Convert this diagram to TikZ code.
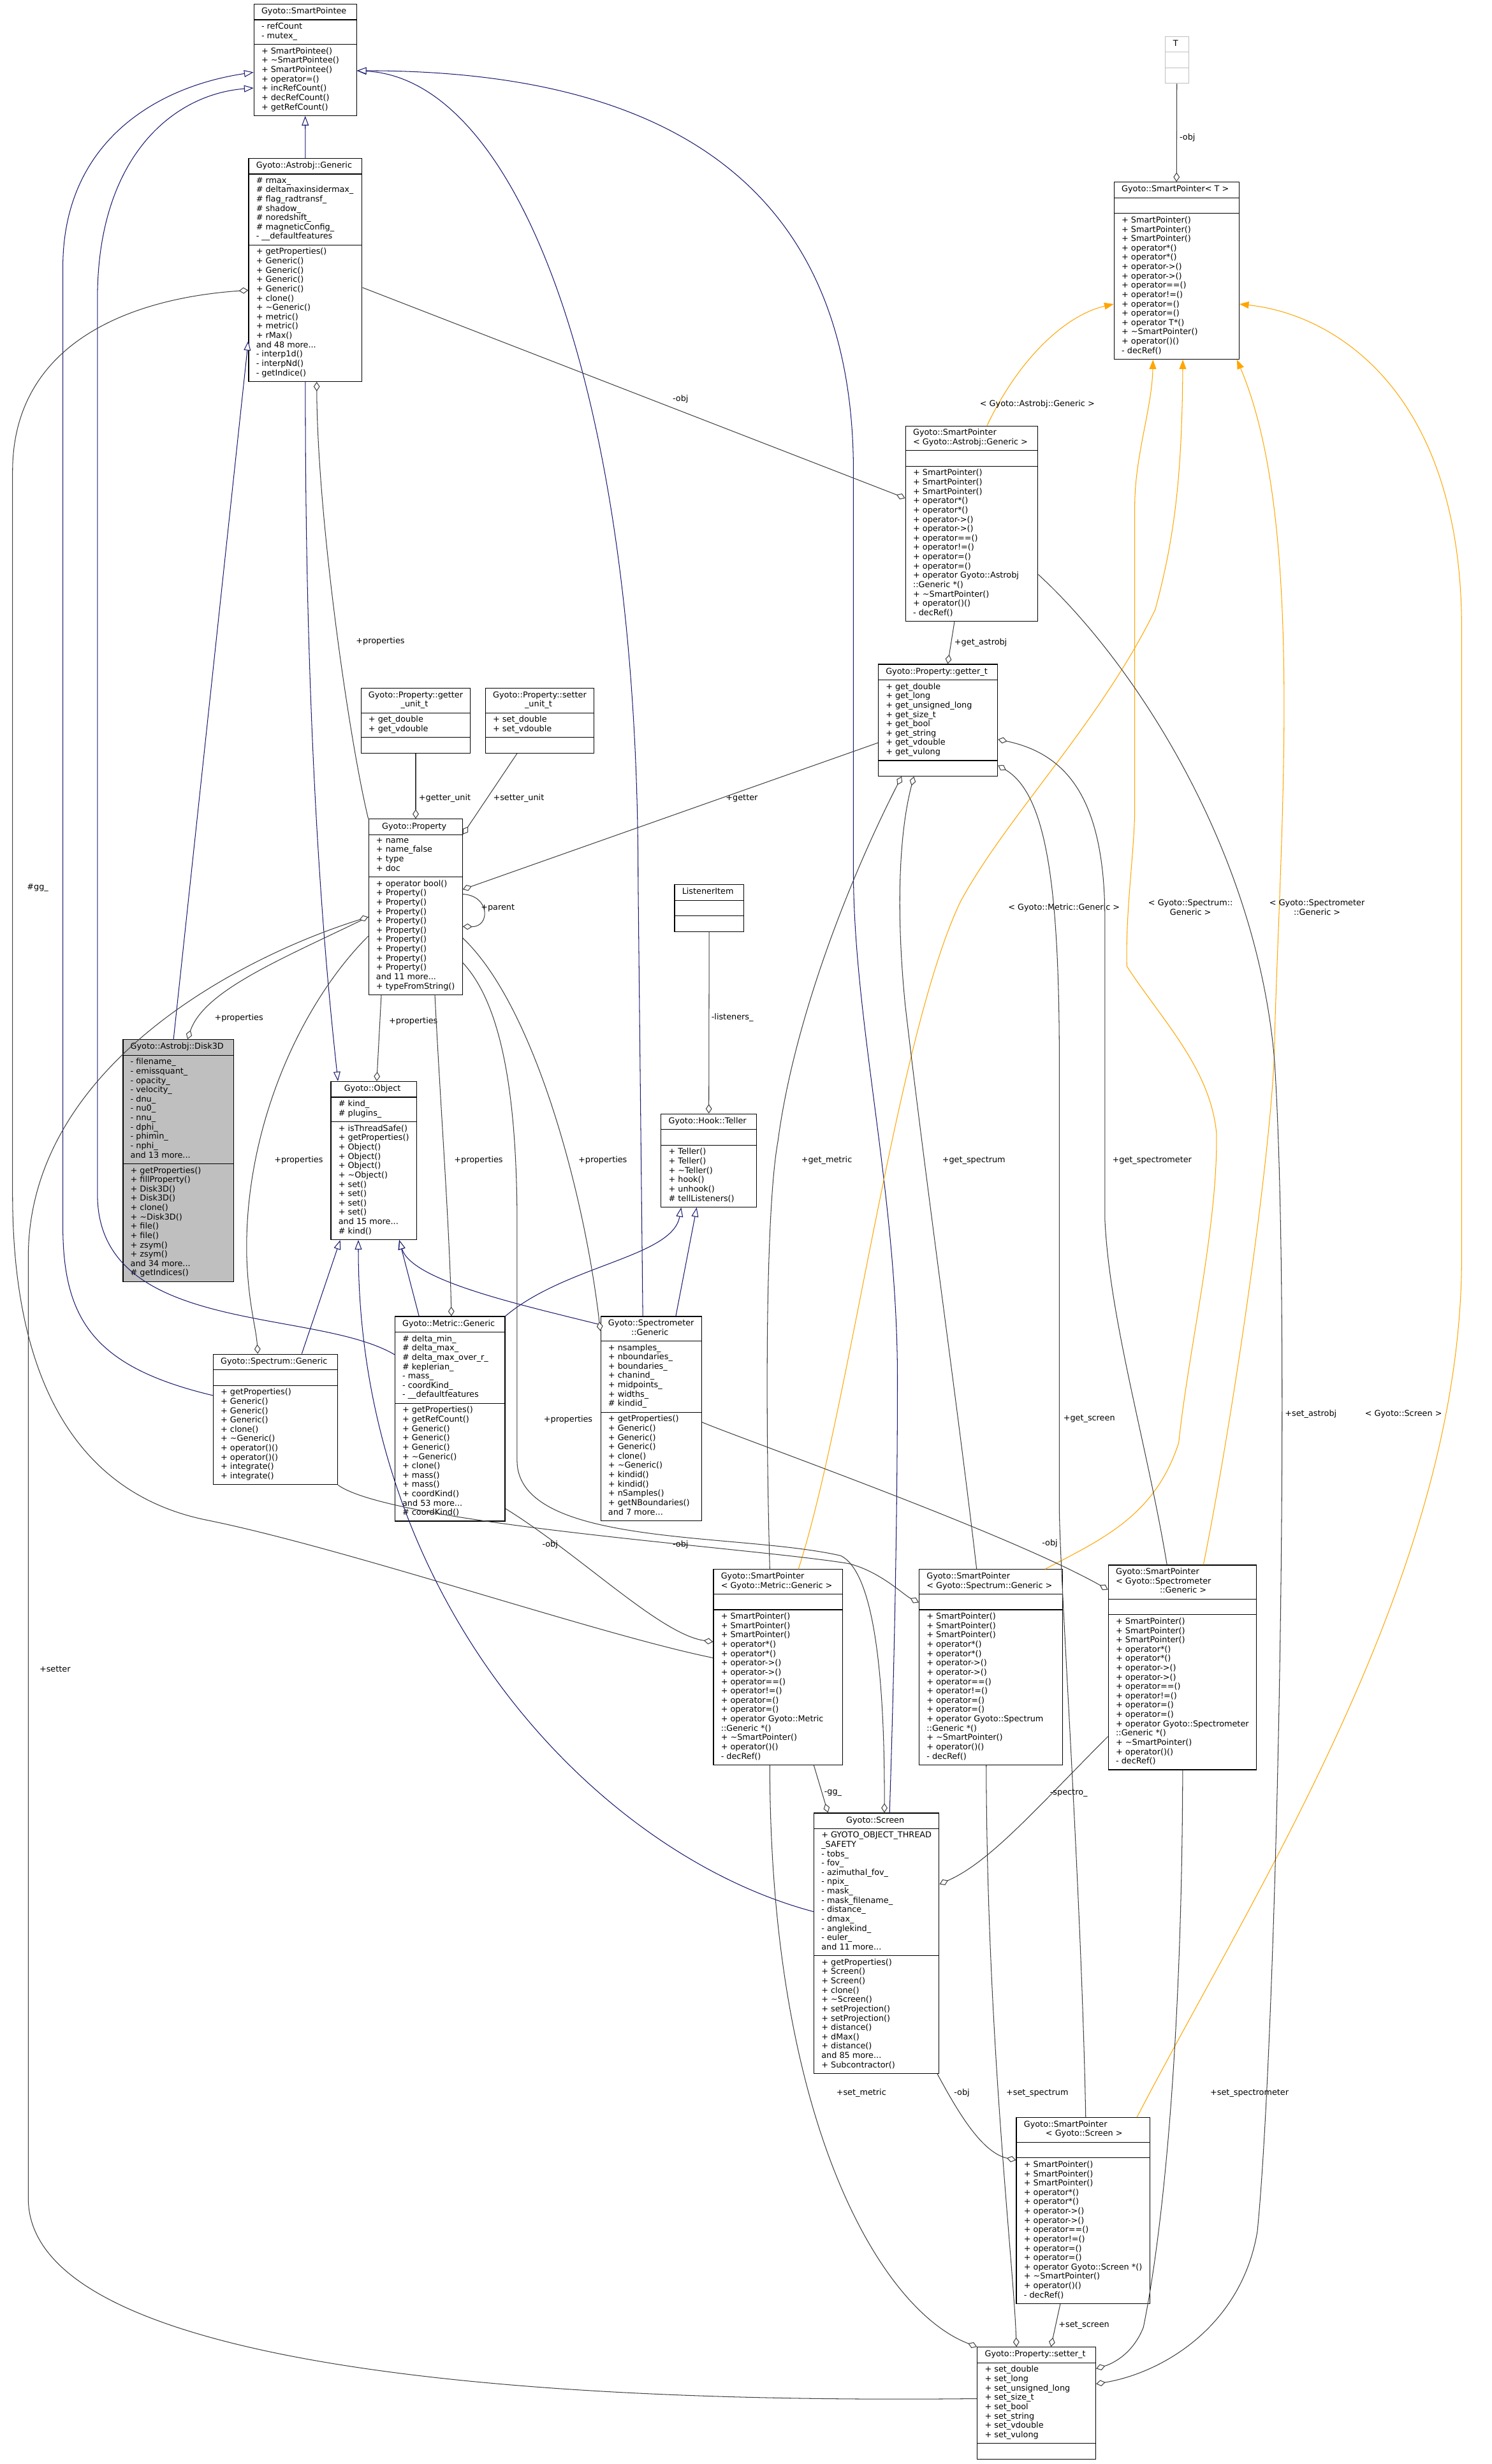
\documentclass[tikz,border=0pt]{standalone}
\usepackage{fontspec}
\setmainfont{DejaVu Sans}
\usetikzlibrary{shapes.multipart,arrows.meta}
\definecolor{inhblue}{HTML}{191970}
\definecolor{usegrey}{HTML}{404040}
\definecolor{tmplorange}{HTML}{FFA500}
\definecolor{boxgrey}{HTML}{BFBFBF}
\newcommand{\clsfont}{\fontsize{7.4}{8.44}\selectfont}
\tikzset{
  cls/.style={rectangle split, rectangle split parts=3, draw=black, line width=0.7pt,
    fill=white, anchor=north, font=\clsfont, align=left, inner xsep=6.8pt, inner ysep=2.5pt,
    rectangle split part align={center,left,left},
    execute at begin node=\strut, execute at end node=\strut},
  inh/.style={draw=inhblue, line width=0.6pt, -{Triangle[open,fill=white,length=0.3cm,width=0.22cm]}},
  memb/.style={draw=usegrey, line width=0.6pt, -{Diamond[open,fill=white,length=0.3cm,width=0.2cm]}},
  tmpl/.style={draw=tmplorange, line width=0.6pt, -{Triangle[length=0.3cm,width=0.22cm]}},
  lbl/.style={font=\clsfont, inner sep=0pt, align=center},
}
\begin{document}
\begin{tikzpicture}[x=0.05cm, y=-0.05cm]
  \useasboundingbox (0,0) rectangle (949,1568);
  % --- classes ---
  \node[cls] (spointee) at (194.2,2.4) {Gyoto::SmartPointee
    \nodepart{two}- refCount\\- mutex\_
    \nodepart{three}+ SmartPointee()\\+ \textasciitilde SmartPointee()\\+ SmartPointee()\\+ operator=()\\+ incRefCount()\\+ decRefCount()\\+ getRefCount()};
  \node[cls] (astrobj) at (194.3,100.6) {Gyoto::Astrobj::Generic
    \nodepart{two}\# rmax\_\\\# deltamaxinsidermax\_\\\# flag\_radtransf\_\\\# shadow\_\\\# noredshift\_\\\# magneticConfig\_\\- \_\_defaultfeatures
    \nodepart{three}+ getProperties()\\+ Generic()\\+ Generic()\\+ Generic()\\+ Generic()\\+ clone()\\+ \textasciitilde Generic()\\+ metric()\\+ metric()\\+ rMax()\\and 48 more...\\- interp1d()\\- interpNd()\\- getIndice()};
  \node[cls, draw=boxgrey, minimum width=0.75cm] (tcls) at (748.8,23) {T
    \nodepart{two}\strut
    \nodepart{three}\strut};
  \node[cls] (sptmpl) at (748.6,115.7) {Gyoto::SmartPointer< T >
    \nodepart{two}\strut
    \nodepart{three}+ SmartPointer()\\+ SmartPointer()\\+ SmartPointer()\\+ operator*()\\+ operator*()\\+ operator->()\\+ operator->()\\+ operator==()\\+ operator!=()\\+ operator=()\\+ operator=()\\+ operator T*()\\+ \textasciitilde SmartPointer()\\+ operator()()\\- decRef()};
  \node[cls, rectangle split part align={left,left,left}] (spastro) at (618.3,270.8) {Gyoto::SmartPointer\\< Gyoto::Astrobj::Generic >
    \nodepart{two}\strut
    \nodepart{three}+ SmartPointer()\\+ SmartPointer()\\+ SmartPointer()\\+ operator*()\\+ operator*()\\+ operator->()\\+ operator->()\\+ operator==()\\+ operator!=()\\+ operator=()\\+ operator=()\\+ operator Gyoto::Astrobj\\::Generic *()\\+ \textasciitilde SmartPointer()\\+ operator()()\\- decRef()};
  \node[cls] (getter) at (596.8,422.5) {Gyoto::Property::getter\_t
    \nodepart{two}+ get\_double\\+ get\_long\\+ get\_unsigned\_long\\+ get\_size\_t\\+ get\_bool\\+ get\_string\\+ get\_vdouble\\+ get\_vulong
    \nodepart{three}\strut};
  \node[cls] (gunit) at (264.5,437.8) {Gyoto::Property::getter\\\hfil\_unit\_t
    \nodepart{two}+ get\_double\\+ get\_vdouble
    \nodepart{three}\strut};
  \node[cls] (sunit) at (343.4,437.8) {Gyoto::Property::setter\\\hfil\_unit\_t
    \nodepart{two}+ set\_double\\+ set\_vdouble
    \nodepart{three}\strut};
  \node[cls] (prop) at (264.4,521) {Gyoto::Property
    \nodepart{two}+ name\\+ name\_false\\+ type\\+ doc
    \nodepart{three}+ operator bool()\\+ Property()\\+ Property()\\+ Property()\\+ Property()\\+ Property()\\+ Property()\\+ Property()\\+ Property()\\+ Property()\\and 11 more...\\+ typeFromString()};
  \node[cls] (listener) at (451.2,562.7) {ListenerItem
    \nodepart{two}\strut
    \nodepart{three}\strut};
  \node[cls, fill=boxgrey] (disk) at (113.5,661.3) {Gyoto::Astrobj::Disk3D
    \nodepart{two}- filename\_\\- emissquant\_\\- opacity\_\\- velocity\_\\- dnu\_\\- nu0\_\\- nnu\_\\- dphi\_\\- phimin\_\\- nphi\_\\and 13 more...
    \nodepart{three}+ getProperties()\\+ fillProperty()\\+ Disk3D()\\+ Disk3D()\\+ clone()\\+ \textasciitilde Disk3D()\\+ file()\\+ file()\\+ zsym()\\+ zsym()\\and 34 more...\\\# getIndices()};
  \node[cls] (object) at (237.8,688) {Gyoto::Object
    \nodepart{two}\# kind\_\\\# plugins\_
    \nodepart{three}+ isThreadSafe()\\+ getProperties()\\+ Object()\\+ Object()\\+ Object()\\+ \textasciitilde Object()\\+ set()\\+ set()\\+ set()\\+ set()\\and 15 more...\\\# kind()};
  \node[cls] (teller) at (451,708.6) {Gyoto::Hook::Teller
    \nodepart{two}\strut
    \nodepart{three}+ Teller()\\+ Teller()\\+ \textasciitilde Teller()\\+ hook()\\+ unhook()\\\# tellListeners()};
  \node[cls] (metric) at (286.3,837.5) {Gyoto::Metric::Generic
    \nodepart{two}\# delta\_min\_\\\# delta\_max\_\\\# delta\_max\_over\_r\_\\\# keplerian\_\\- mass\_\\- coordKind\_\\- \_\_defaultfeatures
    \nodepart{three}+ getProperties()\\+ getRefCount()\\+ Generic()\\+ Generic()\\+ Generic()\\+ \textasciitilde Generic()\\+ clone()\\+ mass()\\+ mass()\\+ coordKind()\\and 53 more...\\\# coordKind()};
  \node[cls] (spectrometer) at (414.3,837.5) {Gyoto::Spectrometer\\\hfil::Generic
    \nodepart{two}+ nsamples\_\\+ nboundaries\_\\+ boundaries\_\\+ chanind\_\\+ midpoints\_\\+ widths\_\\\# kindid\_
    \nodepart{three}+ getProperties()\\+ Generic()\\+ Generic()\\+ Generic()\\+ clone()\\+ \textasciitilde Generic()\\+ kindid()\\+ kindid()\\+ nSamples()\\+ getNBoundaries()\\and 7 more...};
  \node[cls] (spectrum) at (175.2,861.5) {Gyoto::Spectrum::Generic
    \nodepart{two}\strut
    \nodepart{three}+ getProperties()\\+ Generic()\\+ Generic()\\+ Generic()\\+ clone()\\+ \textasciitilde Generic()\\+ operator()()\\+ operator()()\\+ integrate()\\+ integrate()};
  \node[cls, rectangle split part align={left,left,left}] (spmetric) at (495,998.5) {Gyoto::SmartPointer\\< Gyoto::Metric::Generic >
    \nodepart{two}\strut
    \nodepart{three}+ SmartPointer()\\+ SmartPointer()\\+ SmartPointer()\\+ operator*()\\+ operator*()\\+ operator->()\\+ operator->()\\+ operator==()\\+ operator!=()\\+ operator=()\\+ operator=()\\+ operator Gyoto::Metric\\::Generic *()\\+ \textasciitilde SmartPointer()\\+ operator()()\\- decRef()};
  \node[cls, rectangle split part align={left,left,left}] (spspectrum) at (630.4,998.5) {Gyoto::SmartPointer\\< Gyoto::Spectrum::Generic >
    \nodepart{two}\strut
    \nodepart{three}+ SmartPointer()\\+ SmartPointer()\\+ SmartPointer()\\+ operator*()\\+ operator*()\\+ operator->()\\+ operator->()\\+ operator==()\\+ operator!=()\\+ operator=()\\+ operator=()\\+ operator Gyoto::Spectrum\\::Generic *()\\+ \textasciitilde SmartPointer()\\+ operator()()\\- decRef()};
  \node[cls, rectangle split part align={left,left,left}] (spspectro) at (752.3,995.7) {Gyoto::SmartPointer\\< Gyoto::Spectrometer\\\hspace*{39.8pt}::Generic >
    \nodepart{two}\strut
    \nodepart{three}+ SmartPointer()\\+ SmartPointer()\\+ SmartPointer()\\+ operator*()\\+ operator*()\\+ operator->()\\+ operator->()\\+ operator==()\\+ operator!=()\\+ operator=()\\+ operator=()\\+ operator Gyoto::Spectrometer\\::Generic *()\\+ \textasciitilde SmartPointer()\\+ operator()()\\- decRef()};
  \node[cls] (screen) at (557.7,1153.5) {Gyoto::Screen
    \nodepart{two}+ GYOTO\_OBJECT\_THREAD\\\_SAFETY\\- tobs\_\\- fov\_\\- azimuthal\_fov\_\\- npix\_\\- mask\_\\- mask\_filename\_\\- distance\_\\- dmax\_\\- anglekind\_\\- euler\_\\and 11 more...
    \nodepart{three}+ getProperties()\\+ Screen()\\+ Screen()\\+ clone()\\+ \textasciitilde Screen()\\+ setProjection()\\+ setProjection()\\+ distance()\\+ dMax()\\+ distance()\\and 85 more...\\+ Subcontractor()};
  \node[cls, rectangle split part align={left,left,left}] (spscreen) at (689.1,1347.3) {Gyoto::SmartPointer\\\hspace*{19.7pt}< Gyoto::Screen >
    \nodepart{two}\strut
    \nodepart{three}+ SmartPointer()\\+ SmartPointer()\\+ SmartPointer()\\+ operator*()\\+ operator*()\\+ operator->()\\+ operator->()\\+ operator==()\\+ operator!=()\\+ operator=()\\+ operator=()\\+ operator Gyoto::Screen *()\\+ \textasciitilde SmartPointer()\\+ operator()()\\- decRef()};
  \node[cls] (setter) at (659.5,1493.4) {Gyoto::Property::setter\_t
    \nodepart{two}+ set\_double\\+ set\_long\\+ set\_unsigned\_long\\+ set\_size\_t\\+ set\_bool\\+ set\_string\\+ set\_vdouble\\+ set\_vulong
    \nodepart{three}\strut};
  % --- inheritance ---
  \draw[inh] (astrobj.north) -- (spointee.south);
  \draw[inh] (metric.west |- 0,862) .. controls (200,832) and (62,850) .. (62,760) -- (62,190) .. controls (62,100) and (110,60) .. (spointee.west |- 0,56);
  \draw[inh] (spectrum.west |- 0,888) .. controls (60,870) and (40,840) .. (40,780) -- (40,170) .. controls (40,90) and (100,55) .. (spointee.west |- 0,46);
  \draw[inh] (409,0 |- spectrometer.north) -- (406,560) .. controls (406,250) and (330,50) .. (spointee.east |- 0,45);
  \draw[inh] (566,0 |- screen.north) .. controls (571,1000) and (571,900) .. (571,877) .. controls (571,760) and (543,650) .. (543,554) -- (543,300) .. controls (543,100) and (400,45) .. (spointee.east |- 0,45);
  \draw[inh] (110.4,0 |- disk.north) -- (astrobj.west |- 0,217);
  \draw[inh] (194.3,0 |- astrobj.south) .. controls (194,500) and (210,640) .. (215,0 |- object.north);
  \draw[inh] (192,0 |- spectrum.north) -- (216.5,0 |- object.south);
  \draw[inh] (screen.west |- 0,1216.5) .. controls (380,1180) and (228,1020) .. (228,0 |- object.south);
  \draw[inh] (266.6,0 |- metric.north) -- (254,0 |- object.south);
  \draw[inh] (spectrometer.west |- 0,843) .. controls (330,830) and (262,815) .. (254,0 |- object.south);
  \draw[inh] (metric.north east) .. controls (360,805) and (428,800) .. (433.4,0 |- teller.south);
  \draw[inh] (430,0 |- spectrometer.north) -- (443.3,0 |- teller.south);
  % --- template instances ---
  \draw[tmpl] (628,0 |- spastro.north) .. controls (650,225) and (680,200) .. (sptmpl.west |- 0,193.5);
  \draw[tmpl] (508,0 |- spmetric.north) .. controls (540,900) and (570,660) .. (611,574) .. controls (640,520) and (700,460) .. (735,388) .. controls (748,340) and (752,300) .. (752.6,0 |- sptmpl.south);
  \draw[tmpl] (665,0 |- spspectrum.north) .. controls (700,980) and (735,965) .. (750,918) .. controls (756,860) and (775,780) .. (774,721) .. controls (770,680) and (740,650) .. (717,615) .. controls (716,580) and (722,540) .. (722,514) -- (722,322) .. controls (722,290) and (733,260) .. (733.6,0 |- sptmpl.south);
  \draw[tmpl] (765.7,0 |- spspectro.north) .. controls (785,900) and (811,720) .. (811,660) .. controls (815,520) and (830,330) .. (787,0 |- sptmpl.south);
  \draw[tmpl] (723.4,0 |- spscreen.north) .. controls (800,1200) and (930,1000) .. (930,800) -- (930,400) .. controls (930,250) and (850,200) .. (sptmpl.east |- 0,193.5);
  \node[lbl] (l-tastro) at (660,257) {< Gyoto::Astrobj::Generic >};
  \node[lbl] (l-tmetric) at (677,577.5) {< Gyoto::Metric::Generic >};
  \node[lbl] (l-tspectrum) at (757.5,577.5) {< Gyoto::Spectrum::\\Generic >};
  \node[lbl] (l-tspectro) at (838,577.5) {< Gyoto::Spectrometer\\::Generic >};
  \node[lbl] (l-tscreen) at (893,900) {< Gyoto::Screen >};
  % --- members ---
  \draw[memb] (tcls.south) -- (sptmpl.north);
  \node[lbl] (l-tobj) at (755.5,87.7) {-obj};
  \draw[memb] (astrobj.east |- 0,183) -- (spastro.west |- 0,317);
  \node[lbl] (l-aobj) at (433,254) {-obj};
  \draw[memb] (gunit.south) -- (264.5,0 |- prop.north);
  \node[lbl] (l-gunit) at (283,508) {+getter\_unit};
  \draw[memb] (329,0 |- sunit.south) -- (prop.east |- 0,531);
  \node[lbl] (l-sunit) at (330,508) {+setter\_unit};
  \draw[memb] (getter.west |- 0,472.7) -- (prop.east |- 0,566);
  \node[lbl] (l-getter) at (472,508) {+getter};
  \draw[memb] (prop.east |- 0,569) .. controls (312,570) and (312,590) .. (prop.east |- 0,589.6);
  \node[lbl] (l-parent) at (316.7,577.8) {+parent};
  \draw[memb] (prop.north west) .. controls (222,470) and (202,330) .. (201.5,0 |- astrobj.south);
  \node[lbl] (l-pastro) at (242,408) {+properties};
  \draw[memb] (prop.west |- 0,583.5) .. controls (180,610) and (130,630) .. (119.3,0 |- disk.north);
  \node[lbl] (l-pdisk) at (152,648) {+properties};
  \draw[memb] (242.6,0 |- prop.south) -- (239.7,0 |- object.north);
  \node[lbl] (l-pobject) at (263,650) {+properties};
  \draw[memb] (prop.west |- 0,595.7) .. controls (190,640) and (155,720) .. (157,800) .. controls (158,830) and (163,845) .. (164,0 |- spectrum.north);
  \node[lbl] (l-pspectrum) at (190,738.4) {+properties};
  \draw[memb] (276.7,0 |- prop.south) .. controls (280,700) and (286,780) .. (287.2,0 |- metric.north);
  \node[lbl] (l-pmetric) at (304.5,738.4) {+properties};
  \draw[memb] (prop.east |- 0,597) .. controls (340,640) and (372,760) .. (spectrometer.west |- 0,847);
  \node[lbl] (l-pspectro) at (383.5,738.4) {+properties};
  \draw[memb] (prop.east |- 0,612.7) .. controls (320,640) and (329,700) .. (329,780) -- (329,930) .. controls (330,985) and (470,975) .. (535,990) .. controls (555,1000) and (563,1060) .. (562.7,0 |- screen.north);
  \node[lbl] (l-pscreen) at (361.5,903.4) {+properties};
  \draw[memb] (setter.west |- 0,1526.4) .. controls (300,1530) and (20,1500) .. (18,1400) -- (18,800) .. controls (18,680) and (150,610) .. (prop.west |- 0,583.5);
  \node[lbl] (l-setter) at (35,1062) {+setter};
  \draw[memb] (listener.south) -- (teller.north);
  \node[lbl] (l-listen) at (466,647.6) {-listeners\_};
  \draw[memb] (607.3,0 |- spastro.south) -- (603,0 |- getter.north);
  \node[lbl] (l-gastro) at (624,409) {+get\_astrobj};
  \draw[memb] (489.8,0 |- spmetric.north) .. controls (487,900) and (487,770) .. (495,726) .. controls (505,650) and (540,560) .. (573.7,0 |- getter.south);
  \node[lbl] (l-gmetric) at (526,738.6) {+get\_metric};
  \draw[memb] (621.4,0 |- spspectrum.north) .. controls (610,900) and (590,760) .. (576,640) .. controls (570,580) and (572,530) .. (581.5,0 |- getter.south);
  \node[lbl] (l-gspectrum) at (619.6,738.6) {+get\_spectrum};
  \draw[memb] (742.5,0 |- spspectro.north) .. controls (730,920) and (706,840) .. (703,776) -- (703,585) .. controls (703,510) and (680,480) .. (getter.east |- 0,470.5);
  \node[lbl] (l-gspectro) at (733,738.6) {+get\_spectrometer};
  \draw[memb] (690.8,0 |- spscreen.north) .. controls (688,1200) and (674,1000) .. (674,958) -- (674,675) .. controls (674,560) and (665,505) .. (getter.east |- 0,487);
  \node[lbl] (l-gscreen) at (693,903) {+get\_screen};
  \draw[memb] (spastro.east |- 0,365.6) .. controls (720,420) and (800,540) .. (811,676) .. controls (822,850) and (812,1300) .. (800,1420) .. controls (790,1480) and (740,1510) .. (setter.east |- 0,1517);
  \node[lbl] (l-sastro) at (834,900) {+set\_astrobj};
  \draw[memb] (489.8,0 |- spmetric.south) .. controls (490,1350) and (560,1470) .. (setter.north west);
  \node[lbl] (l-smetric) at (548,1332) {+set\_metric};
  \draw[memb] (627.5,0 |- spspectrum.south) .. controls (628,1300) and (645,1440) .. (646.7,0 |- setter.north);
  \node[lbl] (l-sspectrum) at (660,1332) {+set\_spectrum};
  \draw[memb] (674.6,0 |- spscreen.south) -- (668.7,0 |- setter.north);
  \node[lbl] (l-sscreen) at (689.7,1479.6) {+set\_screen};
  \draw[memb] (752.5,0 |- spspectro.south) .. controls (752,1300) and (740,1420) .. (727.5,1481) .. controls (720,1500) and (705,1505) .. (setter.east |- 0,1507.3);
  \node[lbl] (l-sspectro) at (795,1332) {+set\_spectrometer};
  \draw[memb] (spmetric.west |- 0,1055) .. controls (380,1040) and (220,985) .. (130,967) .. controls (50,950) and (8,880) .. (8,760) -- (8,300) .. controls (8,220) and (80,190) .. (astrobj.west |- 0,184.7);
  \node[lbl] (l-agg) at (24,565) {\#gg\_};
  \draw[memb] (517.8,0 |- spmetric.south) -- (526.8,0 |- screen.north);
  \node[lbl] (l-sgg) at (530,1140.8) {-gg\_};
  \draw[memb] (spspectro.west |- 0,1105) .. controls (660,1150) and (630,1185) .. (screen.east |- 0,1199);
  \node[lbl] (l-spectro) at (680,1140.8) {-spectro\_};
  \draw[memb] (596.4,0 |- screen.south) .. controls (610,1345) and (625,1370) .. (spscreen.west |- 0,1374.6);
  \node[lbl] (l-scobj) at (612,1332) {-obj};
  \draw[memb] (metric.east |- 0,960) .. controls (370,990) and (420,1040) .. (spmetric.west |- 0,1044.8);
  \node[lbl] (l-mobj) at (350,983) {-obj};
  \draw[memb] (spectrum.south east) .. controls (250,970) and (480,985) .. (540,995) .. controls (560,1000) and (575,1015) .. (spspectrum.west |- 0,1019.7);
  \node[lbl] (l-sobj) at (433,983) {-obj};
  \draw[memb] (spectrometer.east |- 0,905) .. controls (470,915) and (640,975) .. (spspectro.west |- 0,1011.6);
  \node[lbl] (l-spobj) at (668,982) {-obj};
\end{tikzpicture}
\end{document}
